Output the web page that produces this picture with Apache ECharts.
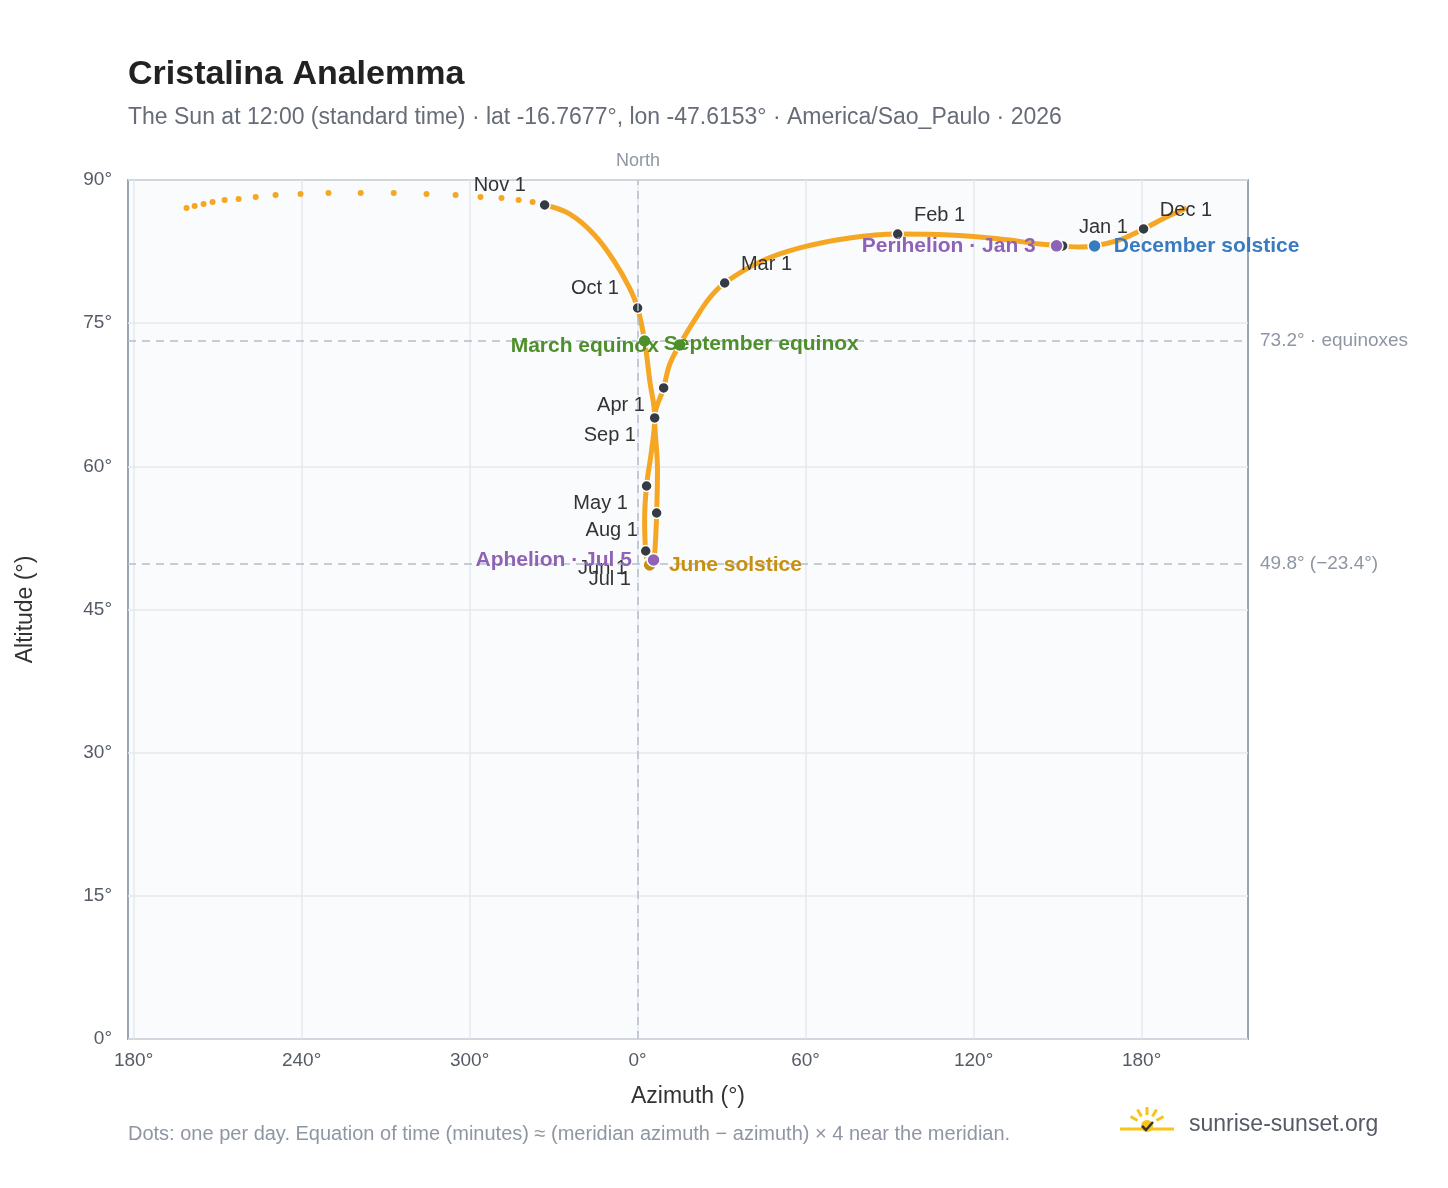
<!DOCTYPE html>
<html>
<head>
<meta charset="utf-8">
<script src="https://cdn.jsdelivr.net/npm/echarts@6/dist/echarts.min.js"></script>
<style>
  html, body { margin: 0; padding: 0; background: #fff; }
  #chart { width: 1448px; height: 1188px; }
</style>
</head>
<body>
<div id="chart"></div>
<script>
// sparse daily dots (sun moving fast near the zenith)
const sparseDots = [
  [-161.1, 87.07], [-158.2, 87.28], [-155.0, 87.49], [-151.8, 87.70], [-147.5, 87.91],
  [-142.5, 88.01], [-136.4, 88.22], [-129.3, 88.43], [-120.4, 88.54], [-110.4, 88.64],
  [-98.9, 88.64], [-87.1, 88.64], [-75.4, 88.54], [-65.0, 88.43], [-56.1, 88.22],
  [-48.6, 88.12], [-42.5, 87.91], [-37.5, 87.70]
]
// dense part of the path (dots overlap into a line)
const densePath = [
  [-33.2, 87.38], [-24.3, 86.44], [-15.4, 84.24], [-8.2, 81.41], [-2.9, 78.69],
  [0.0, 76.59], [2.5, 73.13], [4.3, 69.05], [6.1, 65.07], [5.0, 61.71],
  [3.2, 57.94], [2.5, 54.38], [2.9, 51.13], [4.3, 49.66], [5.7, 50.19],
  [6.4, 52.28], [6.8, 55.11], [7.1, 59.62], [6.1, 65.07], [9.3, 68.21],
  [11.4, 70.62], [15.0, 72.72], [20.4, 75.34], [25.7, 77.64], [31.1, 79.21],
  [43.6, 81.41], [57.9, 82.88], [75.7, 83.93], [92.9, 84.34], [111.4, 84.24],
  [129.3, 83.82], [143.6, 83.30], [151.8, 83.09], [157.9, 82.98], [163.2, 83.09],
  [172.1, 83.72], [180.7, 84.87], [188.2, 86.02], [196.1, 87.07]
]
const monthNames = ['Jan 1', 'Feb 1', 'Mar 1', 'Apr 1', 'May 1', 'Jun 1', 'Jul 1', 'Aug 1', 'Sep 1', 'Oct 1', 'Nov 1', 'Dec 1']
const monthPoints = [
  [151.8, 83.09], [92.9, 84.34], [31.1, 79.21], [9.3, 68.21], [3.2, 57.94], [2.9, 51.13],
  [4.3, 49.9], [6.8, 55.11], [6.1, 65.07], [0.0, 76.59], [-33.2, 87.38], [180.7, 84.87]
]
// label placement: ur = up-right, ul = up-left, dl = down-left
const monthLabelPos = ['ur', 'ur', 'ur', 'dl', 'dl', 'dl', 'dl', 'dl', 'dl', 'ul', 'ul', 'ur']
const eventNames = ['March equinox', 'September equinox', 'June solstice', 'Aphelion · Jul 5', 'Perihelion · Jan 3', 'December solstice']
const eventPoints = [[2.5, 73.13], [15.0, 72.72], [4.3, 49.66], [5.7, 50.19], [149.6, 83.1], [163.2, 83.09]]
const eventColors = ['#4e8f2c', '#4e8f2c', '#c8900f', '#8e63b5', '#8e63b5', '#3a7bc0']
const xTicks = [-180, -120, -60, 0, 60, 120, 180]
const equinoxAlt = 73.2
const juneAlt = 49.8

const chart = echarts.init(document.getElementById('chart'))
const orange = '#f5a623'
const fmtAz = v => (((Math.round(v) % 360) + 360) % 360) + '°'

const monthPos = {
  ur: { position: [22.5, -12.5], align: 'left' },
  ul: { position: [-12.5, -13.5], align: 'right' },
  dl: { position: [-12.5, 23.5], align: 'right' }
}
const eventPos = [
  { position: [21.5, 12.5], align: 'right' },
  { position: [-8.5, 6.5], align: 'left' },
  { position: [26.5, 7.5], align: 'left' },
  { position: [-14.5, 7.5], align: 'right' },
  { position: [-13.5, 7.5], align: 'right' },
  { position: [26.5, 7.5], align: 'left' }
]

chart.setOption({
  animation: false,
  backgroundColor: '#fff',
  textStyle: { fontFamily: 'Liberation Sans, Arial, sans-serif' },
  title: [
    { text: 'Cristalina Analemma', left: 128, top: 58, padding: 0, textStyle: { fontSize: 34, fontWeight: 'bold', color: '#222' } },
    { text: 'The Sun at 12:00 (standard time) · lat -16.7677°, lon -47.6153° · America/Sao_Paulo · 2026',
      left: 128, top: 106, padding: 0, textStyle: { fontSize: 23, fontWeight: 'normal', color: '#666c78' } },
    { text: 'Dots: one per day. Equation of time (minutes) ≈ (meridian azimuth − azimuth) × 4 near the meridian.',
      left: 128, top: 1124, padding: 0, textStyle: { fontSize: 20, fontWeight: 'normal', color: '#8f96a3' } },
    { text: 'sunrise-sunset.org', left: 1189, top: 1113, padding: 0, textStyle: { fontSize: 23, fontWeight: 'normal', color: '#555b66' } },
    { text: 'North', left: 638, top: 152, padding: 0, textAlign: 'center', textStyle: { fontSize: 18, fontWeight: 'normal', color: '#8f96a3' } }
  ],
  graphic: [
    { type: 'circle', shape: { cx: 1147, cy: 1126, r: 6 }, style: { fill: '#f5c518' } },
    { type: 'group', children: [-60, -30, 0, 30, 60].map(a => {
      const r = a * Math.PI / 180
      return { type: 'line', shape: { x1: 1147 + Math.sin(r) * 11, y1: 1126 - Math.cos(r) * 11, x2: 1147 + Math.sin(r) * 19, y2: 1126 - Math.cos(r) * 19 },
        style: { stroke: '#f5c518', lineWidth: 3 } }
    }) },
    { type: 'line', shape: { x1: 1120, y1: 1129, x2: 1174, y2: 1129 }, style: { stroke: '#f5c518', lineWidth: 3 } },
    { type: 'polyline', shape: { points: [[1142, 1126], [1146, 1130], [1153, 1122]] }, style: { stroke: '#333', lineWidth: 2.5, fill: null } }
  ],
  grid: { left: 128, right: 200, top: 180, bottom: 149, show: true, backgroundColor: '#f9fbfd', borderColor: '#9aa5b4', borderWidth: 2 },
  xAxis: {
    type: 'value', min: -182, max: 218,
    name: 'Azimuth (°)', nameLocation: 'middle', nameGap: 46,
    nameTextStyle: { fontSize: 23, color: '#333' },
    axisLine: { show: false },
    axisTick: { show: false, customValues: xTicks },
    axisLabel: { customValues: xTicks, formatter: fmtAz, fontSize: 19, color: '#555b66', margin: 12 },
    splitLine: { show: true, lineStyle: { color: '#e4e8ee', width: 1.5 } }
  },
  yAxis: {
    type: 'value', min: 0, max: 90, interval: 15,
    name: 'Altitude (°)', nameLocation: 'middle', nameGap: 91, nameRotate: 90,
    nameTextStyle: { fontSize: 23, color: '#333' },
    axisLine: { show: false }, axisTick: { show: false },
    axisLabel: { formatter: '{value}°', fontSize: 19, color: '#555b66', margin: 16 },
    splitLine: { show: true, lineStyle: { color: '#e4e8ee', width: 1.5 } }
  },
  series: [
    {
      type: 'line', data: densePath, smooth: 0.4, symbol: 'none',
      lineStyle: { color: orange, width: 5 }, z: 2,
      markLine: {
        silent: true, symbol: 'none',
        lineStyle: { color: '#b4bfcc', type: [8, 6], width: 1.5 },
        label: { fontSize: 19, color: '#8f96a3' },
        data: [
          { yAxis: equinoxAlt, label: { position: 'end', formatter: equinoxAlt + '° · equinoxes', distance: 12 } },
          { yAxis: juneAlt, label: { position: 'end', formatter: juneAlt + '° (−23.4°)', distance: 12 } },
          { xAxis: 0, label: { show: false } }
        ]
      }
    },
    {
      type: 'scatter', data: sparseDots, symbolSize: 6,
      itemStyle: { color: orange, opacity: 1 }, z: 2
    },
    {
      type: 'scatter', symbolSize: 11, z: 4,
      itemStyle: { color: '#353b45', borderColor: '#fff', borderWidth: 1.5, opacity: 1 },
      data: monthPoints.map((p, i) => ({
        value: p, name: monthNames[i],
        label: {
          show: true, formatter: monthNames[i], fontSize: 20, color: '#333',
          textBorderWidth: 0, verticalAlign: 'middle',
          position: monthPos[monthLabelPos[i]].position, align: monthPos[monthLabelPos[i]].align
        }
      }))
    },
    {
      type: 'scatter', symbolSize: 13, z: 5,
      data: eventPoints.map((p, i) => ({
        value: p,
        itemStyle: { color: eventColors[i], borderColor: '#fff', borderWidth: 1.5, opacity: 1 },
        label: {
          show: true, formatter: eventNames[i], fontSize: 21, fontWeight: 'bold', color: eventColors[i],
          textBorderWidth: 0, verticalAlign: 'middle',
          position: eventPos[i].position, align: eventPos[i].align
        }
      }))
    }
  ]
})
</script>
</body>
</html>
